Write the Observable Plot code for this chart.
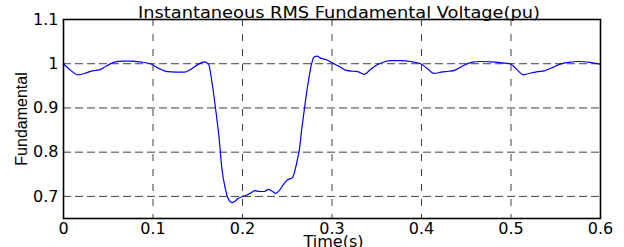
<!DOCTYPE html>
<html>
<head>
<meta charset="utf-8">
<script src="https://cdn.jsdelivr.net/npm/d3@7"></script>
<script src="https://cdn.jsdelivr.net/npm/@observablehq/plot@0.6"></script>
<style>
  html, body { margin: 0; padding: 0; background: #fff; }
  #chart svg { display: block; }
</style>
</head>
<body>
<div id="chart"></div>
<script>
const title = "Instantaneous RMS Fundamental Voltage(pu)";
const xLabel = "Time(s)";
const yLabel = "Fundamental";
const xTicks = [0, 0.1, 0.2, 0.3, 0.4, 0.5, 0.6];
const yTicks = [0.7, 0.8, 0.9, 1, 1.1];

const time = [
  0.000, 0.008, 0.016, 0.024, 0.032, 0.040, 0.048, 0.056, 0.066, 0.076,
  0.086, 0.097, 0.106, 0.116, 0.126, 0.135, 0.142, 0.150, 0.157, 0.162,
  0.166, 0.170, 0.174, 0.177, 0.181, 0.184, 0.188, 0.191, 0.195, 0.200,
  0.205, 0.210, 0.214, 0.219, 0.224, 0.229, 0.233, 0.237, 0.241, 0.246,
  0.250, 0.256, 0.259, 0.262, 0.264, 0.266, 0.268, 0.271, 0.274, 0.277,
  0.280, 0.283, 0.288, 0.294, 0.300, 0.308, 0.316, 0.324, 0.329, 0.336,
  0.343, 0.350, 0.358, 0.366, 0.376, 0.388, 0.399, 0.406, 0.414, 0.422,
  0.430, 0.437, 0.446, 0.456, 0.466, 0.478, 0.490, 0.499, 0.506, 0.514,
  0.522, 0.530, 0.537, 0.546, 0.555, 0.564, 0.576, 0.588, 0.600
];
const fundamental = [
  1.000, 0.985, 0.975, 0.978, 0.984, 0.986, 0.995, 1.003, 1.006, 1.006,
  1.004, 1.000, 0.990, 0.982, 0.981, 0.981, 0.987, 0.998, 1.004, 0.999,
  0.957, 0.897, 0.829, 0.762, 0.716, 0.695, 0.686, 0.688, 0.695, 0.700,
  0.703, 0.709, 0.713, 0.711, 0.711, 0.716, 0.712, 0.707, 0.713, 0.728,
  0.737, 0.743, 0.762, 0.790, 0.812, 0.850, 0.880, 0.925, 0.965, 0.998,
  1.015, 1.017, 1.012, 1.009, 1.002, 0.994, 0.985, 0.983, 0.982, 0.976,
  0.987, 0.997, 1.004, 1.007, 1.007, 1.005, 1.000, 0.990, 0.978, 0.981,
  0.983, 0.985, 0.995, 1.003, 1.005, 1.004, 1.002, 1.000, 0.988, 0.975,
  0.979, 0.982, 0.984, 0.991, 0.999, 1.003, 1.005, 1.003, 0.999
];

const data = time.map((t, i) => ({t, v: fundamental[i]}));

const svg = Plot.plot({
  width: 624,
  height: 247,
  marginLeft: 63,
  marginRight: 24,
  marginTop: 19,
  marginBottom: 29,
  style: {fontFamily: "'DejaVu Sans', sans-serif", fontSize: "16px", background: "#fff", color: "#000"},
  x: {domain: [0, 0.6]},
  y: {domain: [0.65, 1.1]},
  marks: [
    Plot.gridX(xTicks, {stroke: "#000", strokeOpacity: 0.75, strokeWidth: 1, strokeDasharray: "7,8"}),
    Plot.gridY(yTicks, {stroke: "#000", strokeOpacity: 0.75, strokeWidth: 1, strokeDasharray: "8,4"}),
    Plot.line(data, {x: "t", y: "v", stroke: "#0000ff", strokeWidth: 1.2, curve: "monotone-x"}),
    Plot.frame({stroke: "#000", strokeWidth: 1.6}),
    Plot.axisX(xTicks, {tickSize: 0, tickPadding: 4, label: null, fontSize: 16, tickFormat: d => String(d)}),
    Plot.axisY(yTicks, {tickSize: 0, tickPadding: 5, label: null, fontSize: 16, tickFormat: d => String(d)}),
    Plot.text([title], {frameAnchor: "top", textAnchor: "middle", lineAnchor: "middle", dx: 7, dy: -7, fontSize: 16, fill: "#000"}),
    Plot.text([xLabel], {frameAnchor: "bottom", textAnchor: "middle", lineAnchor: "middle", dx: 1.5, dy: 23, fontSize: 16, fill: "#000"}),
    Plot.text([yLabel], {frameAnchor: "left", textAnchor: "middle", lineAnchor: "middle", dx: -42, rotate: -90, fontSize: 16, fill: "#000", fontFamily: "'Liberation Sans', Arial, sans-serif"})
  ]
});

d3.select(svg).selectAll("text")
  .filter(function() { return this.textContent === title; })
  .attr("textLength", 402)
  .attr("lengthAdjust", "spacingAndGlyphs");

document.getElementById("chart").appendChild(svg);
</script>
</body>
</html>
